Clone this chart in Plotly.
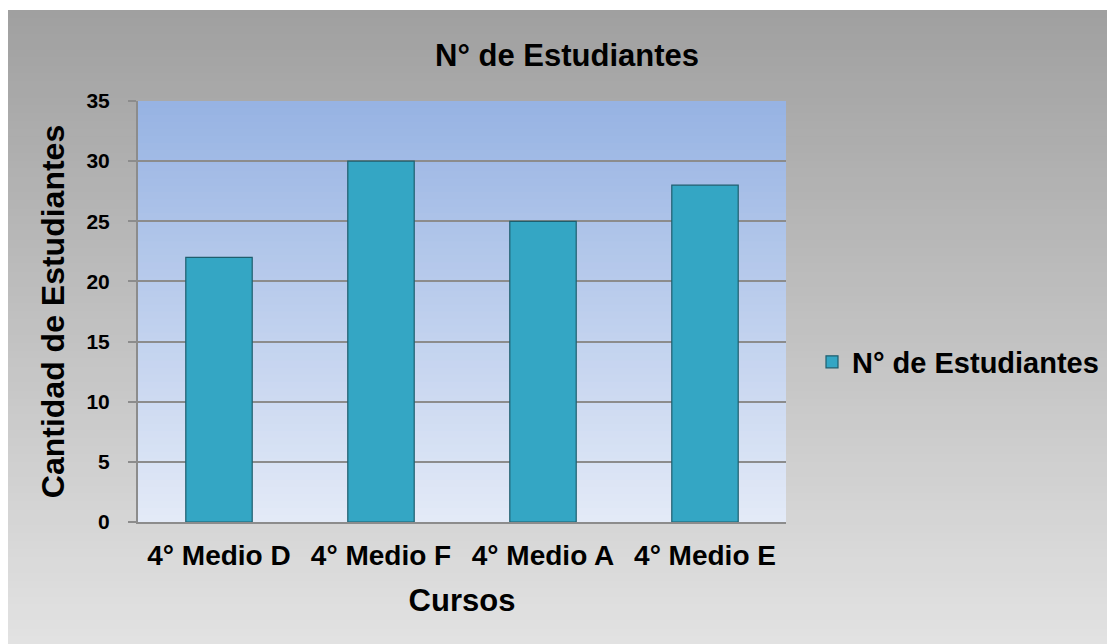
import plotly.graph_objects as go

categories = ["4° Medio D", "4° Medio F", "4° Medio A", "4° Medio E"]
values = [22, 30, 25, 28]
series_name = "N° de Estudiantes"
title_text = "N° de Estudiantes"
x_title = "Cursos"
y_title = "Cantidad de Estudiantes"

# page offset caused by the default body margin
OX, OY = 8, 8
W, H = 1115 - OX, 644 - OY
PL, PR, PT, PB = 138 - OX, 787 - OX, 101 - OY, 522 - OY
ML, MR, MT, MB = PL, W - PR, PT, H - PB
PW, PH = PR - PL, PB - PT

def px2paper_x(px):
    return (px - OX - ML) / PW

def py2paper_y(py):
    return (PB - (py - OY)) / PH

def lerp(c1, c2, t):
    return "rgb(%d,%d,%d)" % tuple(round(a + (b - a) * t) for a, b in zip(c1, c2))

shapes = []
N = 80
top_c, bot_c = (160, 160, 160), (226, 226, 226)
y0px, y1px = 10, 644
for i in range(N):
    a = y0px + (y1px - y0px) * i / N
    b = y0px + (y1px - y0px) * (i + 1) / N + 1
    shapes.append(dict(type="rect", xref="paper", yref="paper",
                       x0=px2paper_x(7), x1=px2paper_x(1130),
                       y0=py2paper_y(b), y1=py2paper_y(a),
                       fillcolor=lerp(top_c, bot_c, i / (N - 1)),
                       line=dict(width=0), layer="below"))
M = 60
ptop, pbot = (151, 179, 227), (227, 234, 247)
for i in range(M):
    shapes.append(dict(type="rect", xref="x domain", yref="y domain",
                       x0=0, x1=1, y0=1 - (i + 1) / M - 0.002, y1=1 - i / M,
                       fillcolor=lerp(ptop, pbot, i / (M - 1)),
                       line=dict(width=0), layer="below"))

fig = go.Figure()
fig.add_trace(go.Bar(
    x=categories, y=values, name="<b>%s</b>" % series_name,
    marker=dict(color="#34a6c4", line=dict(color="#1f5e6e", width=1.2)),
    showlegend=True,
))

font_family = "Liberation Sans, Arial, sans-serif"
fig.update_layout(
    width=W, height=H,
    margin=dict(l=ML, r=MR, t=MT, b=MB),
    paper_bgcolor="white",
    plot_bgcolor="rgba(0,0,0,0)",
    font=dict(family=font_family, color="black"),
    title=dict(text="<b>%s</b>" % title_text, x=0.505, xanchor="center",
               y=1 - 47 / H, yanchor="middle", font=dict(size=31)),
    bargap=0.59,
    shapes=shapes,
    showlegend=True,
    legend=dict(x=px2paper_x(812), y=py2paper_y(362), xanchor="left", yanchor="middle",
                font=dict(size=29), bgcolor="rgba(0,0,0,0)", itemwidth=30),
    xaxis=dict(
        showline=True, linecolor="#8c8c8c", linewidth=2,
        tickfont=dict(size=28), ticks="", ticklabelstandoff=7,
        title=dict(text="<b>%s</b>" % x_title, font=dict(size=31), standoff=20),
        tickprefix="<b>", ticksuffix="</b>",
    ),
    yaxis=dict(
        range=[0, 35], dtick=5, showline=True, linecolor="#8c8c8c", linewidth=2,
        gridcolor="#8c8c8c", gridwidth=2, zeroline=False,
        ticks="outside", ticklen=8, tickcolor="#8c8c8c", tickwidth=2,
        ticklabelstandoff=14,
        tickfont=dict(size=21), tickprefix="<b>", ticksuffix="</b>",
        title=dict(text="<b>%s</b>" % y_title, font=dict(size=32), standoff=12),
    ),
)

fig.write_html("out.html")
